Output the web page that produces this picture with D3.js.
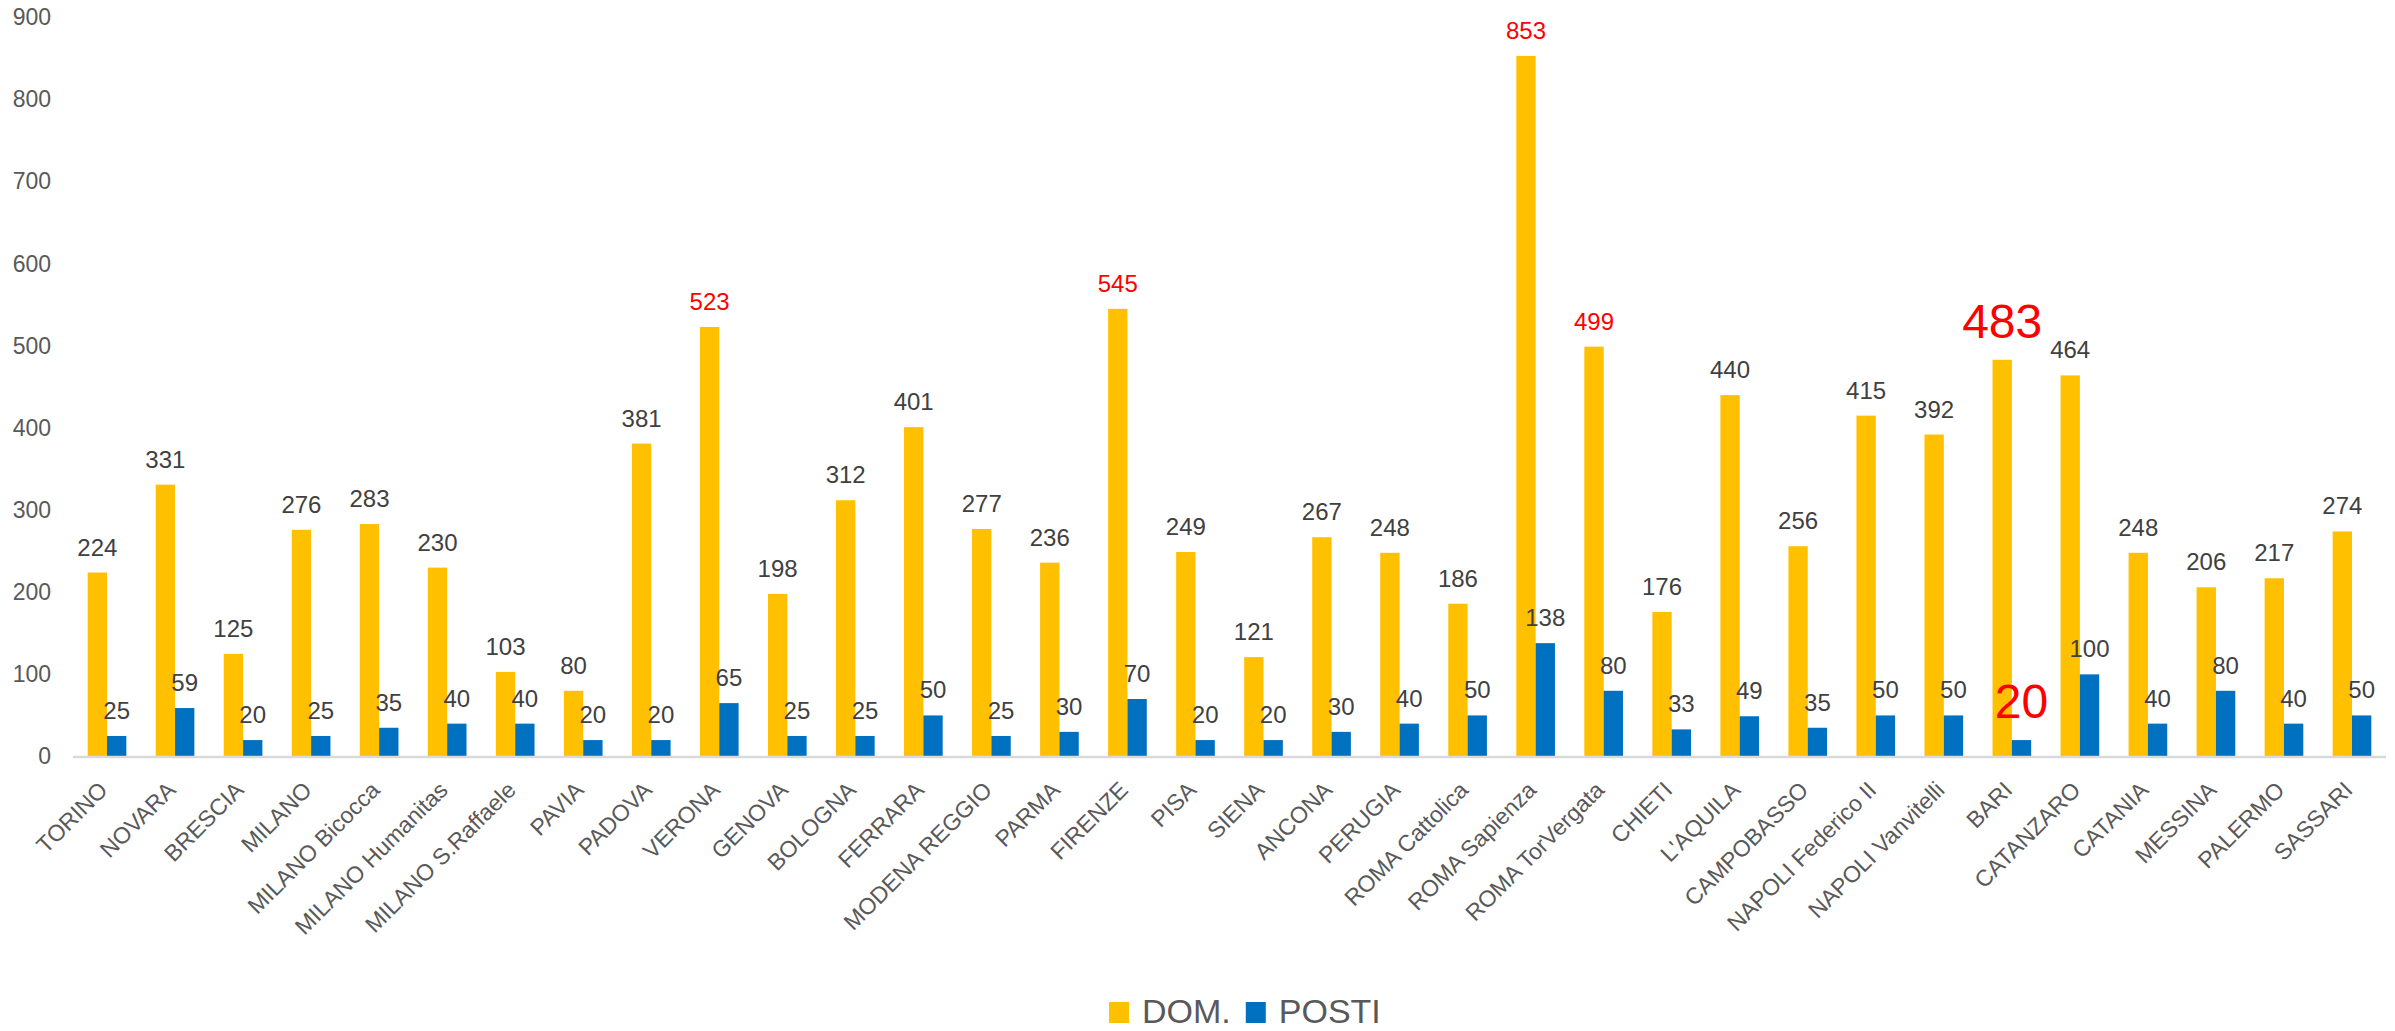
<!DOCTYPE html>
<html>
<head>
<meta charset="utf-8">
<script src="https://cdn.jsdelivr.net/npm/d3@7"></script>
<style>
  html, body { margin: 0; padding: 0; background: #fff; }
  svg { display: block; font-family: "Liberation Sans", Arial, sans-serif; }
</style>
</head>
<body>
<div id="chart"></div>
<script>
// categories (università) and the two series
const sedi = ["TORINO", "NOVARA", "BRESCIA", "MILANO", "MILANO Bicocca", "MILANO Humanitas",
    "MILANO S.Raffaele", "PAVIA", "PADOVA", "VERONA", "GENOVA", "BOLOGNA", "FERRARA",
    "MODENA REGGIO", "PARMA", "FIRENZE", "PISA", "SIENA", "ANCONA", "PERUGIA", "ROMA Cattolica",
    "ROMA Sapienza", "ROMA TorVergata", "CHIETI", "L'AQUILA", "CAMPOBASSO", "NAPOLI Federico II",
    "NAPOLI Vanvitelli", "BARI", "CATANZARO", "CATANIA", "MESSINA", "PALERMO", "SASSARI"];
const domande = [224, 331, 125, 276, 283, 230, 103, 80, 381, 523, 198, 312, 401, 277, 236, 545,
    249, 121, 267, 248, 186, 853, 499, 176, 440, 256, 415, 392, 483, 464, 248, 206, 217, 274];
const posti = [25, 59, 20, 25, 35, 40, 40, 20, 20, 65, 25, 25, 50, 25, 30, 70, 20, 20, 30, 40,
    50, 138, 80, 33, 49, 35, 50, 50, 20, 100, 40, 80, 40, 50];
const serie = ["DOM.", "POSTI"];
const yTicks = [0, 100, 200, 300, 400, 500, 600, 700, 800, 900];
// labels highlighted in red in the original
const rossiDom = ["VERONA", "FIRENZE", "ROMA Sapienza", "ROMA TorVergata"];
const grandi = ["BARI"];

const COLOURS = {
    "DOM.": "#FFC000",
    "POSTI": "#0070C0",
    TICK: "#595959",
    LABEL: "#404040",
    RED: "#FF0000",
    AXIS: "#D9D9D9"
};

const W = 2395, H = 1031;
const svg = d3.select("#chart").append("svg")
    .attr("width", W)
    .attr("height", H);

const x = d3.scaleBand().domain(sedi).range([73, 2386]).paddingInner(0).paddingOuter(0);
const xSub = d3.scaleBand().domain(serie).range([0, x.bandwidth()]).paddingInner(0).paddingOuter(0.76);
const y = d3.scaleLinear().domain([0, 900]).range([756.5, 17.3]);

const rows = sedi.map((s, i) => ({sede: s, "DOM.": domande[i], "POSTI": posti[i]}));

// y axis labels only (no line, no gridlines)
const yAxis = svg.append("g")
    .attr("transform", "translate(51,0)")
    .call(d3.axisLeft(y).tickValues(yTicks).tickSize(0).tickPadding(0));
yAxis.select(".domain").remove();
yAxis.selectAll("text")
    .attr("fill", COLOURS.TICK)
    .style("font-size", "23px")
    .style("font-family", "Liberation Sans, Arial, sans-serif");

// bars
const groups = svg.append("g").selectAll("g")
    .data(rows)
    .join("g")
    .attr("transform", d => `translate(${x(d.sede)},0)`);

groups.selectAll("rect")
    .data(d => serie.map(k => ({key: k, value: d[k], sede: d.sede})))
    .join("rect")
    .attr("x", d => xSub(d.key))
    .attr("width", xSub.bandwidth())
    .attr("y", d => y(d.value))
    .attr("height", d => y(0) - y(d.value))
    .attr("fill", d => COLOURS[d.key]);

// data labels
groups.selectAll("text")
    .data(d => serie.map(k => ({key: k, value: d[k], sede: d.sede})))
    .join("text")
    .attr("x", d => xSub(d.key) + xSub.bandwidth() / 2)
    .attr("y", d => y(d.value) - (grandi.includes(d.sede) ? 22 : 17))
    .attr("text-anchor", "middle")
    .style("font-size", d => grandi.includes(d.sede) ? "48px" : "24px")
    .attr("fill", d => {
        if (grandi.includes(d.sede)) return COLOURS.RED;
        if (d.key === "DOM." && rossiDom.includes(d.sede)) return COLOURS.RED;
        return COLOURS.LABEL;
    })
    .text(d => d.value);

// category axis line
svg.append("line")
    .attr("x1", x.range()[0])
    .attr("x2", x.range()[1])
    .attr("y1", y(0) + 0.5)
    .attr("y2", y(0) + 0.5)
    .attr("stroke", COLOURS.AXIS)
    .attr("stroke-width", 2.5);

// rotated category labels
svg.append("g").selectAll("text")
    .data(sedi)
    .join("text")
    .attr("transform", d => `translate(${x(d) + x.bandwidth() / 2 + 2},${y(0) + 35}) rotate(-45)`)
    .attr("text-anchor", "end")
    .attr("fill", COLOURS.TICK)
    .style("font-size", "23px")
    .text(d => d);

// legend
const legend = svg.append("g").attr("transform", "translate(1109,1002)");
let lx = 0;
serie.forEach(k => {
    legend.append("rect")
        .attr("x", lx)
        .attr("y", 0)
        .attr("width", 20)
        .attr("height", 21)
        .attr("fill", COLOURS[k]);
    const t = legend.append("text")
        .attr("x", lx + 33)
        .attr("y", 21)
        .attr("fill", COLOURS.TICK)
        .style("font-size", "34px")
        .text(k);
    lx += 33 + t.node().getComputedTextLength() + 15;
});
</script>
</body>
</html>
